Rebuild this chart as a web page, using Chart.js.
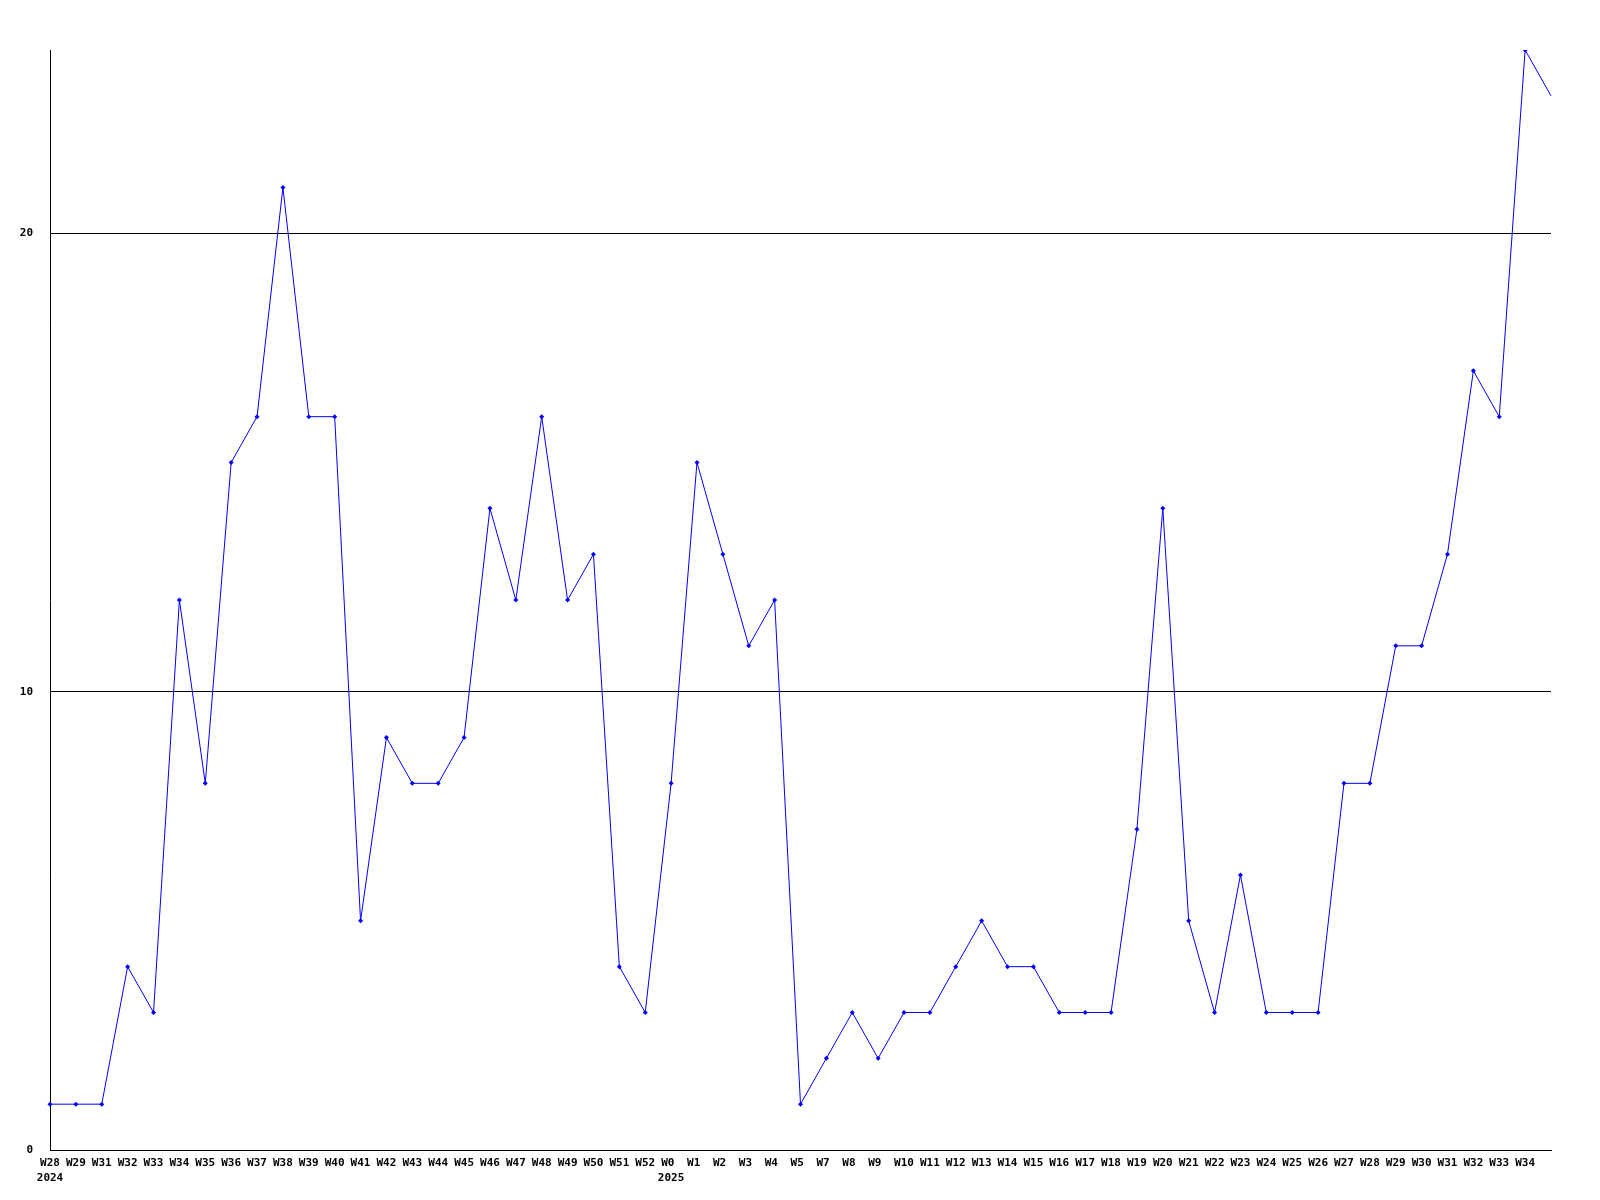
<!DOCTYPE html>
<html lang="en">
<head>
  <meta charset="UTF-8">
  <title>Weekly counts</title>
  <script src="https://cdn.jsdelivr.net/npm/chart.js"></script>
  <style>
    body { margin: 0; padding: 0; background: #fff; }
    #wrap { width: 1600px; height: 1200px; }
  </style>
</head>
<body>
  <div id="wrap"><canvas id="chart" width="1600" height="1200"></canvas></div>

  <script>
    // week labels (last point has no label)
    const weeks = [
      "W28", "W29", "W31", "W32", "W33", "W34", "W35", "W36", "W37", "W38",
      "W39", "W40", "W41", "W42", "W43", "W44", "W45", "W46", "W47", "W48",
      "W49", "W50", "W51", "W52", "W0", "W1", "W2", "W3", "W4", "W5",
      "W7", "W8", "W9", "W10", "W11", "W12", "W13", "W14", "W15", "W16",
      "W17", "W18", "W19", "W20", "W21", "W22", "W23", "W24", "W25", "W26",
      "W27", "W28", "W29", "W30", "W31", "W32", "W33", "W34", ""
    ];
    // year shown under the first week of each year
    const years = { 0: "2024", 24: "2025" };
    const values = [
      1, 1, 1, 4, 3, 12, 8, 15, 16, 21,
      16, 16, 5, 9, 8, 8, 9, 14, 12, 16,
      12, 13, 4, 3, 8, 15, 13, 11, 12, 1,
      2, 3, 2, 3, 3, 4, 5, 4, 4, 3,
      3, 3, 7, 14, 5, 3, 6, 3, 3, 3,
      8, 8, 11, 11, 13, 17, 16, 24, 23
    ];
    const yTicks = [0, 10, 20];

    // short week names are padded so they sit left-aligned like the others
    const labels = weeks.map((w, i) => {
      const s = w ? w.padEnd(3, " ") : w;
      return years[i] ? [s, years[i]] : s;
    });
    const radii = values.map((v, i) => i === values.length - 1 ? 0 : 2.5);

    const font = { family: "'DejaVu Sans Mono', monospace", size: 11, weight: "bold", lineHeight: "15px" };

    new Chart(document.getElementById("chart"), {
      type: "line",
      data: {
        labels: labels,
        datasets: [{
          data: values,
          borderColor: "#0000ff",
          backgroundColor: "#0000ff",
          borderWidth: 1,
          tension: 0,
          pointStyle: "rectRot",
          pointRadius: radii,
          pointBorderWidth: 0,
          fill: false
        }]
      },
      options: {
        responsive: false,
        animation: false,
        devicePixelRatio: 1,
        layout: { padding: { left: 0, top: 50, right: 49, bottom: 0 } },
        plugins: { legend: { display: false }, tooltip: { enabled: false } },
        scales: {
          x: {
            offset: false,
            grid: { display: false, drawTicks: false },
            border: { display: true, color: "#000", width: 1 },
            ticks: { color: "#000", font: font, autoSkip: false, maxRotation: 0, minRotation: 0, padding: 6 },
            afterFit: s => { s.height = 50; }
          },
          y: {
            min: 0,
            max: 24,
            grid: { color: "#000", lineWidth: 1, drawTicks: false },
            border: { display: true, color: "#000", width: 1 },
            ticks: { color: "#000", font: font, padding: 17 },
            afterBuildTicks: s => { s.ticks = yTicks.map(v => ({ value: v })); },
            afterFit: s => { s.width = 50; }
          }
        }
      }
    });
  </script>
</body>
</html>
